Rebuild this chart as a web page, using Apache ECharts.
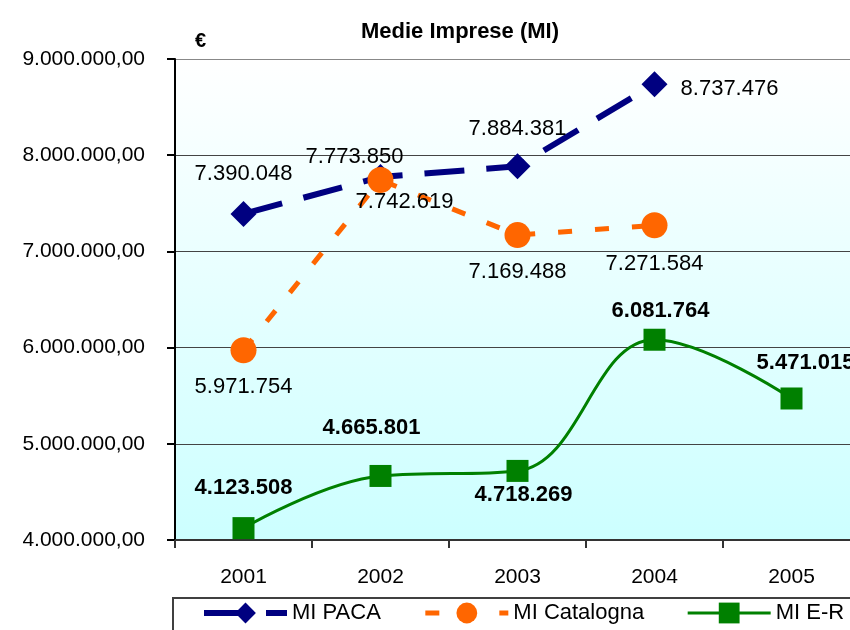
<!DOCTYPE html>
<html>
<head>
<meta charset="utf-8">
<script src="https://cdn.jsdelivr.net/npm/echarts@6/dist/echarts.min.js"></script>
<style>
  html, body { margin: 0; padding: 0; background: #ffffff; }
  #chart { width: 850px; height: 630px; }
</style>
</head>
<body>
<div id="chart"></div>
<script>
// Medie Imprese (MI) – values in euro per region, 2001-2005
const years = ['2001', '2002', '2003', '2004', '2005'];
const paca = [7390048, 7773850, 7884381, 8737476, null];
const catalogna = [5971754, 7742619, 7169488, 7271584, null];
const emiliaRomagna = [4123508, 4665801, 4718269, 6081764, 5471015];
const yTicks = [4000000, 5000000, 6000000, 7000000, 8000000, 9000000];

const FONT = '"Liberation Sans", Arial, sans-serif';

// thousands separated with dots, Italian style
function dots(n) {
  return String(Math.round(n)).replace(/\B(?=(\d{3})+(?!\d))/g, '.');
}

// where each value label sits relative to its marker (px)
const pacaLabelOffset = [[0, -40], [-26, -20], [0, -37], [75, 5]];
const catLabelOffset = [[0, 37], [24, 22], [0, 37], [0, 39]];
const erLabelOffset = [[0, -40], [-9, -48], [6, 24], [6, -29], [14, -36]];

function withLabels(values, offsets, bold) {
  return values.map((v, i) => {
    if (v == null) return null;
    return {
      value: v,
      label: {
        show: true,
        position: 'inside',
        offset: offsets[i],
        formatter: p => dots(p.value),
        color: '#000',
        fontSize: 22,
        fontFamily: FONT,
        fontWeight: bold ? 'bold' : 'normal'
      }
    };
  });
}

const PACA_DASH = [40, 22];
const CAT_DASH = [14, 23];

const chart = echarts.init(document.getElementById('chart'), null, { renderer: 'canvas' });

chart.setOption({
  animation: false,
  backgroundColor: '#ffffff',
  title: {
    text: 'Medie Imprese (MI)',
    left: 356,
    top: 16,
    textStyle: { fontFamily: FONT, fontSize: 22, fontWeight: 'bold', color: '#000' }
  },
  grid: {
    left: 175,
    width: 685,
    top: 59,
    height: 481,
    outerBoundsMode: 'none',
    containLabel: false,
    show: true,
    borderWidth: 0,
    backgroundColor: new echarts.graphic.LinearGradient(0, 0, 0, 1, [
      { offset: 0, color: '#ffffff' },
      { offset: 1, color: '#ccffff' }
    ])
  },
  legend: {
    left: 173,
    top: 598,
    width: 760,
    padding: [4, 40, 12, 28],
    borderColor: '#404040',
    borderWidth: 2,
    itemWidth: 83,
    itemHeight: 26,
    itemGap: 42,
    textStyle: { fontFamily: FONT, fontSize: 22, color: '#000' },
    data: [
      { name: 'MI PACA', lineStyle: { width: 6, type: PACA_DASH } },
      { name: 'MI Catalogna', lineStyle: { width: 5, type: CAT_DASH } },
      { name: 'MI E-R', lineStyle: { width: 3 } }
    ]
  },
  xAxis: {
    type: 'category',
    data: years,
    boundaryGap: true,
    axisLine: { lineStyle: { color: '#333', width: 2 } },
    axisTick: { show: true, length: 8, lineStyle: { color: '#333', width: 2 } },
    axisLabel: { margin: 27, fontFamily: FONT, fontSize: 21, color: '#000' }
  },
  yAxis: {
    type: 'value',
    min: yTicks[0],
    max: yTicks[yTicks.length - 1],
    interval: yTicks[1] - yTicks[0],
    name: '€',
    nameLocation: 'end',
    nameGap: 8,
    nameTextStyle: { fontFamily: FONT, fontSize: 20, fontWeight: 'bold', color: '#000', align: 'left', padding: [0, 0, 0, 20] },
    axisLine: { show: true, lineStyle: { color: '#000', width: 2 } },
    axisTick: { show: true, length: 8, lineStyle: { color: '#000', width: 2 } },
    axisLabel: {
      margin: 30,
      fontFamily: FONT,
      fontSize: 21,
      color: '#000',
      formatter: v => dots(v) + ',00'
    },
    splitLine: {
      show: true,
      lineStyle: { color: ['#444', '#444', '#444', '#444', '#444', '#888'], width: 1 }
    }
  },
  series: [
    {
      name: 'MI PACA',
      type: 'line',
      data: withLabels(paca, pacaLabelOffset, false),
      symbol: 'diamond',
      symbolSize: 26,
      color: '#000080',
      itemStyle: { color: '#000080' },
      lineStyle: { color: '#000080', width: 6, type: PACA_DASH, cap: 'butt' }
    },
    {
      name: 'MI Catalogna',
      type: 'line',
      data: withLabels(catalogna, catLabelOffset, false),
      symbol: 'circle',
      symbolSize: 26,
      color: '#ff6600',
      itemStyle: { color: '#ff6600' },
      lineStyle: { color: '#ff6600', width: 5, type: CAT_DASH, cap: 'butt' }
    },
    {
      name: 'MI E-R',
      type: 'line',
      data: withLabels(emiliaRomagna, erLabelOffset, true),
      symbol: 'rect',
      symbolSize: 22,
      smooth: 0.4,
      color: '#008000',
      itemStyle: { color: '#008000' },
      lineStyle: { color: '#008000', width: 3 }
    }
  ]
});
</script>
</body>
</html>
